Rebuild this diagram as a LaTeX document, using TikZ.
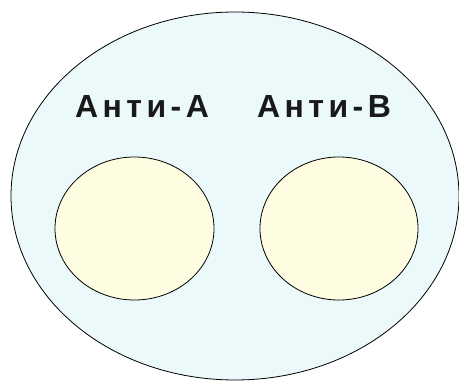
\documentclass[tikz,border=0pt]{standalone}
\usepackage{fontspec}
\setmainfont{Liberation Sans}
\usetikzlibrary{shapes.geometric}
\definecolor{outerfill}{HTML}{ECF9FA}
\definecolor{innerfill}{HTML}{FFFDE1}
\tikzset{
  blob/.style={ellipse, draw=black, line width=0.8pt, inner sep=0pt},
  lbl/.style={font=\fontsize{32}{35}\selectfont\bfseries\addfontfeature{LetterSpace=14}, text=black!90, inner sep=0pt, anchor=base}
}
\begin{document}
\begin{tikzpicture}[x=1pt,y=-1pt]
\useasboundingbox (0,0) rectangle (459,382);
\node[blob, fill=outerfill, minimum width=448pt, minimum height=368pt] (outer) at (235,196) {};
\node[blob, fill=innerfill, minimum width=159pt, minimum height=143pt] (left) at (134.5,228.5) {};
\node[blob, fill=innerfill, minimum width=158pt, minimum height=143pt] (right) at (339,228.5) {};
\node[lbl] (antiA) at (142,118) {Анти-А};
\node[lbl] (antiB) at (324,118) {Анти-В};
\end{tikzpicture}
\end{document}
